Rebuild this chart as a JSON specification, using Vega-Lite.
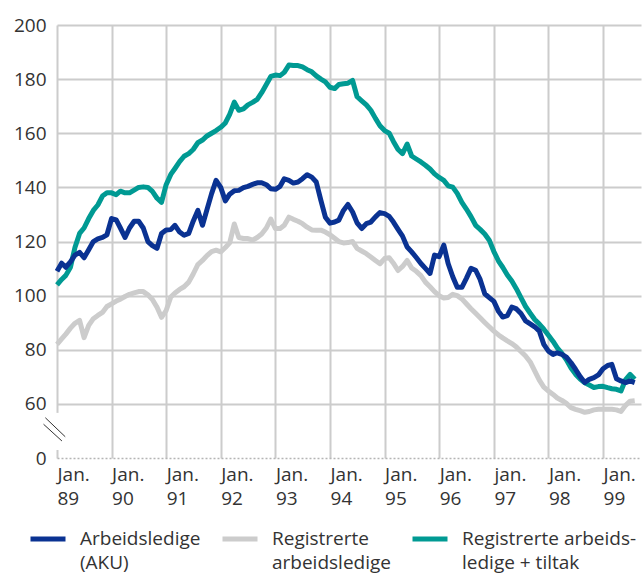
{
  "$schema": "https://vega.github.io/schema/vega-lite/v6.json",
  "width": 584,
  "height": 433,
  "autosize": {"type": "none"},
  "padding": {"left": 57, "top": 25, "right": 3, "bottom": 116},
  "config": {
    "view": {"stroke": null},
    "font": "Open Sans",
    "style": {"guide-label": {"lineHeight": 24}},
    "legend": {
      "orient": "none",
      "legendX": -29,
      "legendY": 494,
      "direction": "horizontal",
      "columns": 3,
      "symbolType": "stroke",
      "symbolSize": 1225,
      "symbolStrokeWidth": 5,
      "labelOffset": 12,
      "columnPadding": 11,
      "labelFontSize": 19,
      "labelColor": "#333333",
      "labelLimit": 300
    }
  },
  "datasets": {
    "series": [
      {"d":"1989-01","a":109,"r":82,"t":104},
      {"d":"1989-02","a":112,"r":84,"t":106},
      {"d":"1989-03","a":110.5,"r":85.8,"t":107.5},
      {"d":"1989-04","a":112.5,"r":88,"t":110.5},
      {"d":"1989-05","a":115,"r":89.8,"t":117.8},
      {"d":"1989-06","a":116,"r":90.9,"t":123},
      {"d":"1989-07","a":114,"r":84.5,"t":125},
      {"d":"1989-08","a":117,"r":89,"t":128.5},
      {"d":"1989-09","a":120,"r":91.5,"t":131.5},
      {"d":"1989-10","a":121,"r":92.7,"t":133.5},
      {"d":"1989-11","a":121.5,"r":93.8,"t":136.8},
      {"d":"1989-12","a":122.5,"r":96,"t":138},
      {"d":"1990-01","a":128.5,"r":97,"t":138},
      {"d":"1990-02","a":128,"r":98,"t":137.3},
      {"d":"1990-03","a":125,"r":98.7,"t":138.6},
      {"d":"1990-04","a":121.5,"r":99.7,"t":138},
      {"d":"1990-05","a":125,"r":100.5,"t":138},
      {"d":"1990-06","a":127.5,"r":101,"t":139},
      {"d":"1990-07","a":127.5,"r":101.5,"t":140},
      {"d":"1990-08","a":125,"r":101.5,"t":140.2},
      {"d":"1990-09","a":120,"r":100.3,"t":140},
      {"d":"1990-10","a":118.5,"r":98.6,"t":138.5},
      {"d":"1990-11","a":117.5,"r":95.7,"t":136},
      {"d":"1990-12","a":123,"r":92,"t":134.5},
      {"d":"1991-01","a":124.3,"r":94.5,"t":141},
      {"d":"1991-02","a":124.4,"r":99.5,"t":144.8},
      {"d":"1991-03","a":126,"r":101,"t":147},
      {"d":"1991-04","a":123.5,"r":102.3,"t":149.5},
      {"d":"1991-05","a":122.3,"r":103.3,"t":151.5},
      {"d":"1991-06","a":123,"r":105,"t":152.5},
      {"d":"1991-07","a":127.5,"r":108,"t":154},
      {"d":"1991-08","a":131.5,"r":111.5,"t":156.5},
      {"d":"1991-09","a":126,"r":113,"t":157.5},
      {"d":"1991-10","a":131.8,"r":114.8,"t":159},
      {"d":"1991-11","a":137.7,"r":116.3,"t":160},
      {"d":"1991-12","a":142.6,"r":116.8,"t":161},
      {"d":"1992-01","a":140,"r":116.2,"t":162.2},
      {"d":"1992-02","a":135,"r":117.8,"t":163.8},
      {"d":"1992-03","a":137.5,"r":119.5,"t":167},
      {"d":"1992-04","a":138.8,"r":126.5,"t":171.5},
      {"d":"1992-05","a":138.9,"r":121.5,"t":168.5},
      {"d":"1992-06","a":139.9,"r":121.1,"t":169},
      {"d":"1992-07","a":140.4,"r":121.1,"t":170.5},
      {"d":"1992-08","a":141.1,"r":120.5,"t":171.4},
      {"d":"1992-09","a":141.7,"r":121.5,"t":172.5},
      {"d":"1992-10","a":141.7,"r":122.8,"t":175},
      {"d":"1992-11","a":141,"r":125,"t":178},
      {"d":"1992-12","a":139.5,"r":128.3,"t":181},
      {"d":"1993-01","a":139.3,"r":124.8,"t":181.5},
      {"d":"1993-02","a":140.4,"r":124.8,"t":181.3},
      {"d":"1993-03","a":143.2,"r":126,"t":182.5},
      {"d":"1993-04","a":142.6,"r":129,"t":185.2},
      {"d":"1993-05","a":141.6,"r":128.2,"t":185},
      {"d":"1993-06","a":142,"r":127.5,"t":185},
      {"d":"1993-07","a":143.2,"r":126.6,"t":184.5},
      {"d":"1993-08","a":144.7,"r":125.3,"t":183.5},
      {"d":"1993-09","a":143.8,"r":124.3,"t":182.7},
      {"d":"1993-10","a":142,"r":124.2,"t":181.2},
      {"d":"1993-11","a":135.2,"r":124.2,"t":180},
      {"d":"1993-12","a":129,"r":123.5,"t":179},
      {"d":"1994-01","a":126.8,"r":122.5,"t":177},
      {"d":"1994-02","a":127.2,"r":121.2,"t":176.5},
      {"d":"1994-03","a":127.9,"r":120,"t":178},
      {"d":"1994-04","a":131.5,"r":119.5,"t":178.3},
      {"d":"1994-05","a":133.7,"r":119.6,"t":178.5},
      {"d":"1994-06","a":130.9,"r":120,"t":179.5},
      {"d":"1994-07","a":126.9,"r":117.5,"t":173.5},
      {"d":"1994-08","a":124.8,"r":116.5,"t":172},
      {"d":"1994-09","a":126.6,"r":115.5,"t":170.5},
      {"d":"1994-10","a":127.2,"r":114.3,"t":168.5},
      {"d":"1994-11","a":129.1,"r":113,"t":165.5},
      {"d":"1994-12","a":130.7,"r":111.8,"t":162.8},
      {"d":"1995-01","a":130.3,"r":113.7,"t":161},
      {"d":"1995-02","a":129.3,"r":114,"t":160},
      {"d":"1995-03","a":127.2,"r":112,"t":157},
      {"d":"1995-04","a":124.5,"r":109.3,"t":154},
      {"d":"1995-05","a":122,"r":110.8,"t":152.5},
      {"d":"1995-06","a":118,"r":113,"t":156},
      {"d":"1995-07","a":116.2,"r":110.2,"t":151.6},
      {"d":"1995-08","a":114.1,"r":109,"t":150.5},
      {"d":"1995-09","a":111.9,"r":107.4,"t":149.4},
      {"d":"1995-10","a":110.1,"r":105,"t":148.2},
      {"d":"1995-11","a":108.2,"r":103.3,"t":146.8},
      {"d":"1995-12","a":115,"r":101.5,"t":145},
      {"d":"1996-01","a":114.4,"r":100,"t":143.7},
      {"d":"1996-02","a":118.7,"r":99.1,"t":142.6},
      {"d":"1996-03","a":111.9,"r":99.3,"t":140.6},
      {"d":"1996-04","a":107,"r":100.5,"t":140.1},
      {"d":"1996-05","a":103.1,"r":100,"t":137.8},
      {"d":"1996-06","a":103.1,"r":98.8,"t":134.5},
      {"d":"1996-07","a":106.4,"r":97,"t":132},
      {"d":"1996-08","a":110.1,"r":95.2,"t":129.2},
      {"d":"1996-09","a":109.4,"r":93.5,"t":126},
      {"d":"1996-10","a":106,"r":91.8,"t":124.5},
      {"d":"1996-11","a":100.7,"r":90.1,"t":122.8},
      {"d":"1996-12","a":99.3,"r":88.5,"t":120.5},
      {"d":"1997-01","a":97.9,"r":86.9,"t":116.3},
      {"d":"1997-02","a":94.2,"r":85.5,"t":112.8},
      {"d":"1997-03","a":92.1,"r":84.4,"t":110.5},
      {"d":"1997-04","a":92.6,"r":83.3,"t":107.6},
      {"d":"1997-05","a":95.8,"r":82.3,"t":105.4},
      {"d":"1997-06","a":95.1,"r":81,"t":102.5},
      {"d":"1997-07","a":93.4,"r":79.4,"t":99.3},
      {"d":"1997-08","a":90.7,"r":77.7,"t":96},
      {"d":"1997-09","a":89.6,"r":75.5,"t":93.5},
      {"d":"1997-10","a":88.5,"r":72.2,"t":91.2},
      {"d":"1997-11","a":86.9,"r":68.8,"t":89.5},
      {"d":"1997-12","a":82,"r":66.2,"t":87.6},
      {"d":"1998-01","a":79.5,"r":64.8,"t":85.4},
      {"d":"1998-02","a":78.3,"r":63.5,"t":83.1},
      {"d":"1998-03","a":78.9,"r":62.2,"t":80.7},
      {"d":"1998-04","a":78.3,"r":61.3,"t":78.7},
      {"d":"1998-05","a":77.3,"r":60.2,"t":76.3},
      {"d":"1998-06","a":75.2,"r":58.6,"t":73.3},
      {"d":"1998-07","a":72.8,"r":58,"t":71},
      {"d":"1998-08","a":70.1,"r":57.5,"t":69.2},
      {"d":"1998-09","a":67.9,"r":56.9,"t":67.8},
      {"d":"1998-10","a":69.1,"r":57.2,"t":67},
      {"d":"1998-11","a":69.7,"r":57.8,"t":66.1},
      {"d":"1998-12","a":70.7,"r":58,"t":66.4},
      {"d":"1999-01","a":73,"r":58,"t":66.5},
      {"d":"1999-02","a":74.2,"r":58,"t":66},
      {"d":"1999-03","a":74.6,"r":58,"t":65.6},
      {"d":"1999-04","a":69.3,"r":57.8,"t":65.4},
      {"d":"1999-05","a":68.5,"r":57.2,"t":64.8},
      {"d":"1999-06","a":67.9,"r":59.5,"t":69},
      {"d":"1999-07","a":68.5,"r":61,"t":70.9},
      {"d":"1999-08","a":67.9,"r":61.2,"t":69.1}
    ],
    "gap": [
      {"x1":"1989-01-01","y1":14.8,"y2":56.7}
    ],
    "brk": [
      {"x1":"1988-10-15","x2":"1989-02-25","y1":54.9,"y2":39.4},
      {"x1":"1988-10-03","x2":"1989-02-03","y1":52.5,"y2":31.5}
    ]
  },
  "layer": [
    {
      "data": {"name": "series"},
      "transform": [{"fold": ["r", "t", "a"], "as": ["serie", "verdi"]}],
      "mark": {"type": "line", "strokeWidth": 5, "strokeJoin": "round"},
      "encoding": {
        "x": {
          "field": "d",
          "type": "temporal",
          "title": null,
          "scale": {
            "type": "utc",
            "domain": [
              {"year": 1989, "month": 1, "date": 1, "utc": true},
              {"year": 1999, "month": 9, "date": 12, "utc": true}
            ],
            "nice": false
          },
          "axis": {
            "title": null,
            "values": [
              {"year": 1989, "month": 1, "date": 1, "utc": true},
              {"year": 1990, "month": 1, "date": 1, "utc": true},
              {"year": 1991, "month": 1, "date": 1, "utc": true},
              {"year": 1992, "month": 1, "date": 1, "utc": true},
              {"year": 1993, "month": 1, "date": 1, "utc": true},
              {"year": 1994, "month": 1, "date": 1, "utc": true},
              {"year": 1995, "month": 1, "date": 1, "utc": true},
              {"year": 1996, "month": 1, "date": 1, "utc": true},
              {"year": 1997, "month": 1, "date": 1, "utc": true},
              {"year": 1998, "month": 1, "date": 1, "utc": true},
              {"year": 1999, "month": 1, "date": 1, "utc": true}
            ],
            "labelExpr": "[utcyear(datum.value) == 1997 ? 'jan.' : 'Jan.', utcFormat(datum.value, '%y')]",
            "labelAlign": "left",
            "labelDx": -7,
            "labelBaseline": "top",
            "labelPadding": 7,
            "labelLineHeight": 24,
            "labelFontSize": 19,
            "labelColor": "#333333",
            "labelFlush": false,
            "labelOverlap": false,
            "ticks": false,
            "grid": true,
            "gridColor": "#cccccc",
            "gridWidth": 2,
            "domain": true,
            "domainColor": "#b5b5b5",
            "domainDash": [2, 2],
            "domainWidth": 1.5
          }
        },
        "y": {
          "field": "verdi",
          "type": "quantitative",
          "title": null,
          "scale": {"domain": [0, 50, 200], "range": [433, 406, 0], "nice": false, "zero": false},
          "axis": {
            "title": null,
            "values": [0, 60, 80, 100, 120, 140, 160, 180, 200],
            "ticks": false,
            "domain": false,
            "grid": true,
            "gridColor": "#cccccc",
            "gridWidth": 2,
            "gridOpacity": {"condition": {"test": "datum.value === 0", "value": 0}, "value": 1},
            "labelPadding": 11,
            "labelFontSize": 19,
            "labelColor": "#333333"
          }
        },
        "color": {
          "field": "serie",
          "type": "nominal",
          "scale": {"domain": ["a", "r", "t"], "range": ["#0a3292", "#cccccc", "#009a93"]},
          "legend": {
            "title": null,
            "labelExpr": "datum.value == 'a' ? ['Arbeidsledige', '(AKU)'] : datum.value == 'r' ? ['Registrerte', 'arbeidsledige'] : ['Registrerte arbeids-', 'ledige + tiltak']"
          }
        }
      }
    },
    {
      "data": {"name": "gap"},
      "mark": {"type": "rule", "color": "white", "strokeWidth": 4},
      "encoding": {
        "x": {"field": "x1", "type": "temporal", "title": null},
        "y": {"field": "y1", "type": "quantitative", "title": null},
        "y2": {"field": "y2"}
      }
    },
    {
      "data": {"name": "brk"},
      "mark": {"type": "rule", "color": "#333333", "strokeWidth": 1},
      "encoding": {
        "x": {"field": "x1", "type": "temporal", "title": null},
        "x2": {"field": "x2"},
        "y": {"field": "y1", "type": "quantitative", "title": null},
        "y2": {"field": "y2"}
      }
    }
  ]
}
